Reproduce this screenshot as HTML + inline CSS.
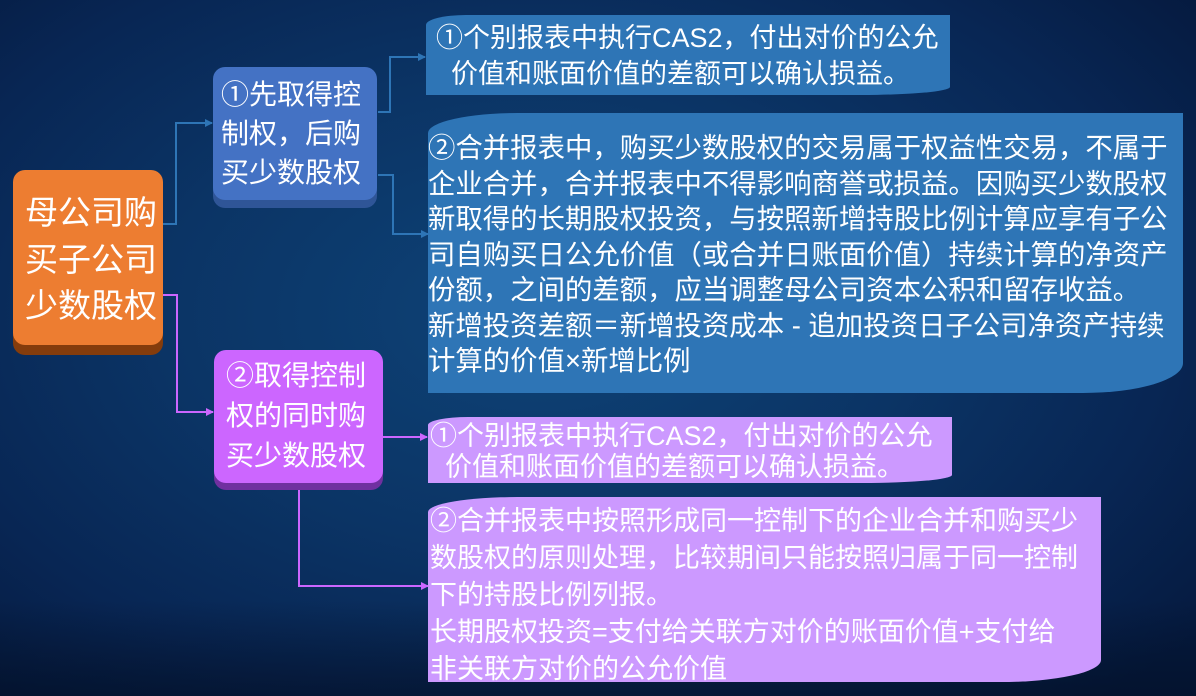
<!DOCTYPE html>
<html><head><meta charset="utf-8"><style>
*{margin:0;padding:0;box-sizing:border-box}
body{width:1196px;height:696px;overflow:hidden;position:relative;
background:radial-gradient(ellipse 70% 75% at 45% 45%,#0e4377 0%,#0b3465 45%,#082654 75%,#051a3f 100%);
font-family:"Liberation Sans","Noto Sans CJK SC",sans-serif;color:#fff}
.a{position:absolute;white-space:nowrap}
.node{border-radius:12px;text-align:left}
.t{font-size:27px;line-height:35.5px;padding-left:2px}
svg{position:absolute;left:0;top:0}
</style></head><body>
<div class="a" style="left:0;top:600px;width:1196px;height:96px;background:linear-gradient(180deg,rgba(5,20,45,0) 0%,rgba(3,14,35,.6) 100%)"></div>

<div class="a node" style="left:13px;top:180px;width:150px;height:175px;background:#843c0c"></div>
<div class="a node" style="left:13px;top:170px;width:150px;height:175px;background:#ed7d31;font-size:33px;line-height:46.5px;padding:20px 0 0 12px">母公司购<br>买子公司<br>少数股权</div>

<div class="a node" style="left:213px;top:75px;width:164px;height:133px;background:#2f5597"></div>
<div class="a node" style="left:213px;top:67px;width:164px;height:133px;background:#4472c4;font-size:28px;line-height:39px;padding:8px 0 0 8px">①先取得控<br>制权，后购<br>买少数股权</div>

<div class="a node" style="left:214px;top:357px;width:169px;height:133px;background:#7030a0"></div>
<div class="a node" style="left:214px;top:350px;width:169px;height:133px;background:#cc66ff;font-size:28px;line-height:40px;padding:6px 0 0 12px">②取得控制<br>权的同时购<br>买少数股权</div>

<div class="a t" style="left:426px;top:15px;width:524px;height:80px;background:#2e75b6;border-radius:40px 0 90px 0/10px 0 8px 0;padding:6px 0 0 10px">①个别报表中执行CAS2，付出对价的公允<br>&nbsp;&nbsp;价值和账面价值的差额可以确认损益。</div>
<div class="a t" style="left:428px;top:113px;width:755px;height:280px;background:#2e75b6;border-radius:90px 0 100px 0/20px 0 30px 0;padding:17px 0 0 0;font-size:27.4px">②合并报表中，购买少数股权的交易属于权益性交易，不属于<br>企业合并，合并报表中不得影响商誉或损益。因购买少数股权<br>新取得的长期股权投资，与按照新增持股比例计算应享有子公<br>司自购买日公允价值（或合并日账面价值）持续计算的净资产<br>份额，之间的差额，应当调整母公司资本公积和留存收益。<br>新增投资差额＝新增投资成本 - 追加投资日子公司净资产持续<br>计算的价值×新增比例</div>

<div class="a t" style="left:428px;top:417px;width:524px;height:66px;background:#cc99ff;border-radius:40px 0 90px 0/8px 0 8px 0;font-size:27px;line-height:31px;padding:4px 0 0 2px">①个别报表中执行CAS2，付出对价的公允<br>&nbsp;&nbsp;价值和账面价值的差额可以确认损益。</div>
<div class="a t" style="left:428px;top:497px;width:673px;height:185px;background:#cc99ff;border-radius:90px 0 100px 0/15px 0 22px 0;font-size:27px;line-height:37px;padding:6px 0 0 2px">②合并报表中按照形成同一控制下的企业合并和购买少<br>数股权的原则处理，比较期间只能按照归属于同一控制<br>下的持股比例列报。<br><span style="line-height:30px">长期股权投资=支付给关联方对价的账面价值+支付给<br>非关联方对价的公允价值</span></div>

<svg width="1196" height="696">
<defs>
<marker id="ab" markerWidth="8" markerHeight="8" refX="7" refY="4" orient="auto" markerUnits="userSpaceOnUse"><path d="M0,0L8,4L0,8z" fill="#2e75b6"/></marker>
<marker id="ap" markerWidth="8" markerHeight="8" refX="7" refY="4" orient="auto" markerUnits="userSpaceOnUse"><path d="M0,0L8,4L0,8z" fill="#cc66ff"/></marker>
</defs>
<g fill="none" stroke="#2e75b6" stroke-width="2">
<path d="M163,224H176V123H212" marker-end="url(#ab)"/>
<path d="M378,112H390V57H425" marker-end="url(#ab)"/>
<path d="M378,175H393V234H428" marker-end="url(#ab)"/>
</g>
<g fill="none" stroke="#cc66ff" stroke-width="2">
<path d="M163,295H177V412H213" marker-end="url(#ap)"/>
<path d="M383,437H427" marker-end="url(#ap)"/>
<path d="M299,490V586H428" marker-end="url(#ap)"/>
</g>
</svg>
</body></html>
